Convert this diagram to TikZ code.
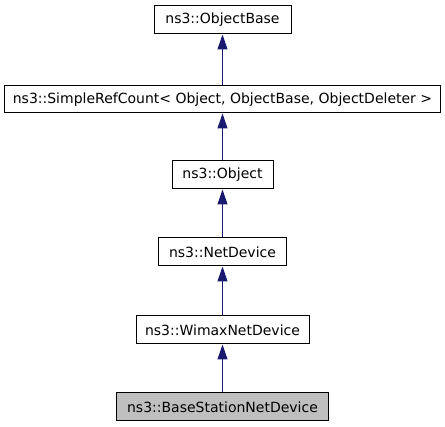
\documentclass[tikz,border=0pt]{standalone}
\usepackage{fontspec}
\setmainfont{DejaVu Sans}
\usetikzlibrary{arrows.meta}
\definecolor{edgeblue}{HTML}{191970}
\definecolor{boxgray}{HTML}{BFBFBF}
\tikzset{
  cls/.style={draw=black, line width=1pt, fill=white, minimum height=28pt, inner sep=0pt, font=\fontsize{14}{17}\selectfont, text=black},
  inh/.style={draw=edgeblue, line width=1pt, -{Triangle[length=15pt,width=10pt]}, fill=edgeblue}
}
\begin{document}
\begin{tikzpicture}[x=1pt,y=1pt]
\useasboundingbox (0,0) rectangle (445,-427);
\node[cls, minimum width=137pt] (ob) at (222.5,-20) {ns3::ObjectBase};
\node[cls, minimum width=436pt, minimum height=27pt] (src) at (222.5,-99.5) {ns3::SimpleRefCount< Object, ObjectBase, ObjectDeleter >};
\node[cls, minimum width=101pt] (obj) at (222.5,-175) {ns3::Object};
\node[cls, minimum width=128pt] (nd) at (222.5,-252) {ns3::NetDevice};
\node[cls, minimum width=173pt] (wnd) at (222.5,-330) {ns3::WimaxNetDevice};
\node[cls, minimum width=212pt, fill=boxgray] (bs) at (222.5,-407) {ns3::BaseStationNetDevice};
\draw[inh] (src.north) -- (ob.south);
\draw[inh] (obj.north) -- (src.south);
\draw[inh] (nd.north) -- (obj.south);
\draw[inh] (wnd.north) -- (nd.south);
\draw[inh] (bs.north) -- (wnd.south);
\end{tikzpicture}
\end{document}
